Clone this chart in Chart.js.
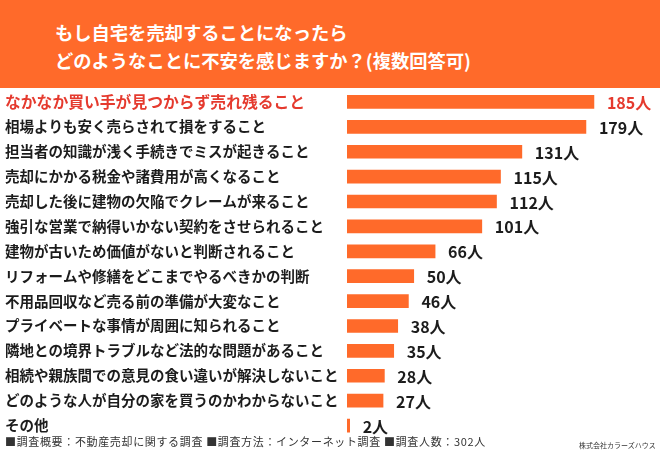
<!DOCTYPE html>
<html>
<head>
<meta charset="utf-8">
<script src="https://cdn.jsdelivr.net/npm/chart.js@4.4.0/dist/chart.umd.min.js"></script>
<style>
  html, body { margin: 0; padding: 0; background: #fff; }
  #wrap { position: relative; width: 660px; height: 450px; overflow: hidden; }
  #head {
    position: absolute; left: 0; top: 0; width: 660px; height: 88px;
    background: #FF6A2A; color: #fff; z-index: 2;
    font-family: "Noto Sans CJK JP", sans-serif; font-weight: bold;
    font-size: 18.3px; line-height: 28px;
  }
  #head div { position: absolute; left: 55px; white-space: nowrap; }
  #foot {
    position: absolute; left: 5px; top: 433px; z-index: 2;
    font-family: "Noto Sans CJK JP", sans-serif; font-size: 11px; color: #333;
    letter-spacing: 0.65px; white-space: nowrap;
  }
  #company {
    position: absolute; left: 579px; top: 440px; z-index: 2;
    font-family: "Noto Sans CJK JP", sans-serif; font-size: 7px; color: #333;
    white-space: nowrap;
  }
</style>
</head>
<body>
<div id="wrap">
  <div id="head">
    <div style="top:18px">もし自宅を売却することになったら</div>
    <div style="top:46px">どのようなことに不安を感じますか？(複数回答可)</div>
  </div>
  <canvas id="chart" width="660" height="450"></canvas>
  <div id="foot">■調査概要：不動産売却に関する調査 ■調査方法：インターネット調査 ■調査人数：302人</div>
  <div id="company">株式会社カラーズハウス</div>
</div>
<script>
var categories = [
  "なかなか買い手が見つからず売れ残ること",
  "相場よりも安く売らされて損をすること",
  "担当者の知識が浅く手続きでミスが起きること",
  "売却にかかる税金や諸費用が高くなること",
  "売却した後に建物の欠陥でクレームが来ること",
  "強引な営業で納得いかない契約をさせられること",
  "建物が古いため価値がないと判断されること",
  "リフォームや修繕をどこまでやるべきかの判断",
  "不用品回収など売る前の準備が大変なこと",
  "プライベートな事情が周囲に知られること",
  "隣地との境界トラブルなど法的な問題があること",
  "相続や親族間での意見の食い違いが解決しないこと",
  "どのような人が自分の家を買うのかわからないこと",
  "その他"
];
var counts = [185, 179, 131, 115, 112, 101, 66, 50, 46, 38, 35, 28, 27, 2];
var unit = "人";

var ORANGE = "#FF6A2A";
var RED = "#E53A2E";
var INK = "#1c1c1c";
var FONT = '"Noto Sans CJK JP", sans-serif';

// number + 人 after each bar
var valueLabels = {
  id: 'valueLabels',
  afterDatasetsDraw: function (chart) {
    var ctx = chart.ctx;
    var meta = chart.getDatasetMeta(0);
    ctx.save();
    ctx.font = 'bold 16px ' + FONT;
    ctx.textBaseline = 'middle';
    ctx.textAlign = 'left';
    meta.data.forEach(function (bar, i) {
      ctx.fillStyle = i === 0 ? RED : INK;
      ctx.fillText(counts[i] + unit, bar.x + 13, bar.y + 1);
    });
    ctx.restore();
  }
};

var ctx = document.getElementById('chart').getContext('2d');
var chart = new Chart(ctx, {
  type: 'bar',
  data: {
    labels: categories,
    datasets: [{
      data: counts,
      backgroundColor: ORANGE,
      borderWidth: 0,
      barThickness: 13
    }]
  },
  options: {
    indexAxis: 'y',
    responsive: false,
    animation: false,
    layout: { padding: { left: 5, right: 6, top: 89.5, bottom: 12 } },
    plugins: { legend: { display: false }, tooltip: { enabled: false } },
    scales: {
      x: { display: false, min: 0, max: 230 },
      y: {
        grid: { display: false },
        border: { display: false },
        afterFit: function (scale) { scale.width = 342; },
        ticks: {
          autoSkip: false,
          crossAlign: 'far',
          padding: 0,
          color: function (c) { return c.index === 0 ? RED : INK; },
          font: function (c) {
            return { family: FONT, weight: 'bold', size: c.index === 0 ? 15.8 : 14.5 };
          }
        }
      }
    }
  },
  plugins: [valueLabels]
});
</script>
</body>
</html>
